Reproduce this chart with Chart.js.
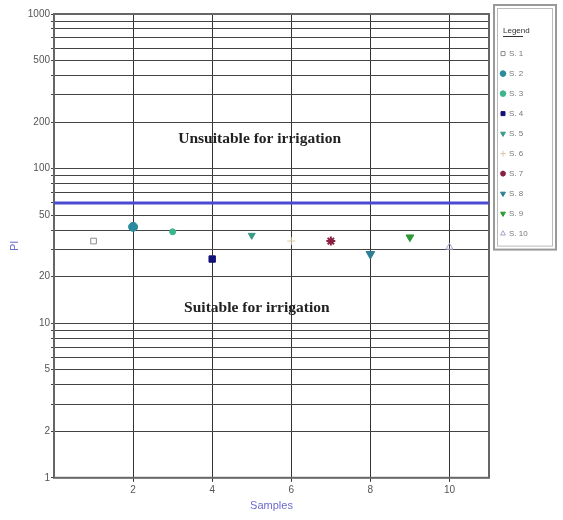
<!DOCTYPE html>
<html>
<head>
<meta charset="utf-8">
<script src="https://cdn.jsdelivr.net/npm/chart.js@4.4.1/dist/chart.umd.min.js"></script>
<style>
    html, body { margin: 0; padding: 0; background: #fff; }
    #wrap { width: 563px; height: 520px; }
</style>
</head>
<body>
<div id="wrap"><canvas id="piChart" width="563" height="520"></canvas></div>
<script>
// Data
const sampleLabels = ["S. 1", "S. 2", "S. 3", "S. 4", "S. 5", "S. 6", "S. 7", "S. 8", "S. 9", "S. 10"];
const sampleX = [1, 2, 3, 4, 5, 6, 7, 8, 9, 10];
const piValues = [34, 42, 39, 26, 37, 34, 34, 28, 36, 31];
const xTicks = [2, 4, 6, 8, 10];
const yTickLabels = [1, 2, 5, 10, 20, 50, 100, 200, 500, 1000];
const limitValue = 60;
const limitRange = [0, 11];

// marker look per sample
const markerStyles = [
    { style: "rect", fill: "#ffffff", border: "#8a8a8a", radius: 4, rot: 0 },
    { style: "circle", fill: "#2b8a9c", border: "#2b8a9c", radius: 4.5, rot: 0 },
    { style: "circle", fill: "#3db58a", border: "#3db58a", radius: 3, rot: 0 },
    { style: "rect", fill: "#12127a", border: "#12127a", radius: 4.5, rot: 0 },
    { style: "triangle", fill: "#3a9a88", border: "#3a9a88", radius: 4, rot: 180 },
    { style: "cross", fill: "#d6caa2", border: "#d6caa2", radius: 4, rot: 0 },
    { style: "star", fill: "#8a2040", border: "#8a2040", radius: 4.5, rot: 0 },
    { style: "triangle", fill: "#2f7d94", border: "#2f7d94", radius: 5, rot: 180 },
    { style: "triangle", fill: "#2c9a36", border: "#2c9a36", radius: 4.5, rot: 180 },
    { style: "triangle", fill: "rgba(255,255,255,0)", border: "#a9a2cc", radius: 4, rot: 0 },
];

// minor grid values for the log axis (1..9 of each decade)
const yGrid = [];
for (let d = 1; d < 1000; d *= 10) {
    for (let m = 1; m < 10; m++) yGrid.push(m * d);
}
yGrid.push(1000);

const datasets = sampleLabels.map((label, i) => ({
    label: label,
    data: [{ x: sampleX[i], y: piValues[i] }],
    pointStyle: markerStyles[i].style,
    pointRadius: markerStyles[i].radius,
    pointRotation: markerStyles[i].rot,
    backgroundColor: markerStyles[i].fill,
    borderColor: markerStyles[i].border,
    pointBorderWidth: markerStyles[i].style === "star" ? 2 : 1,
    showLine: false,
}));

datasets.push({
    label: "limit",
    type: "line",
    data: limitRange.map((x) => ({ x: x, y: limitValue })),
    borderColor: "#4b4bd2",
    borderWidth: 3,
    pointRadius: 0,
    showLine: true,
    order: 20,
});

const LEGEND_WIDTH = 71;

const frameAndText = {
    id: "frameAndText",
    afterInit(chart) {
        // force the legend column width
        const lg = chart.legend;
        if (lg) {
            const origFit = lg.fit.bind(lg);
            lg.fit = function () {
                origFit();
                this.width = LEGEND_WIDTH;
            };
        }
    },
    beforeDatasetsDraw(chart) {
        const { ctx, chartArea: a } = chart;
        ctx.save();
        ctx.strokeStyle = "#666";
        ctx.lineWidth = 2;
        ctx.strokeRect(a.left, a.top, a.right - a.left, a.bottom - a.top);
        ctx.restore();
    },
    afterDraw(chart) {
        const { ctx } = chart;
        const xs = chart.scales.x;
        const ys = chart.scales.y;
        ctx.save();
        ctx.fillStyle = "#222";
        ctx.font = "bold 15.5px 'Liberation Serif', 'DejaVu Serif', serif";
        ctx.textAlign = "center";
        ctx.textBaseline = "middle";
        ctx.fillText("Unsuitable for irrigation", xs.getPixelForValue(5.2), ys.getPixelForValue(155));
        ctx.fillText("Suitable for irrigation", xs.getPixelForValue(5.13), ys.getPixelForValue(12.6));

        // legend frame and title
        const lg = chart.legend;
        if (lg && lg.legendHitBoxes.length) {
            const boxes = lg.legendHitBoxes;
            const last = boxes[boxes.length - 1];
            const l = lg.left + 5;
            const t = lg.top - 9;
            const w = lg.width - 9;
            const h = last.top + last.height + 12 - t;
            ctx.strokeStyle = "#999";
            ctx.lineWidth = 2;
            ctx.strokeRect(l, t, w, h);
            ctx.lineWidth = 1;
            ctx.strokeStyle = "#bbb";
            ctx.strokeRect(l + 3.5, t + 3.5, w - 7, h - 7);

            ctx.fillStyle = "#333";
            ctx.font = "8px 'Liberation Sans', Arial, sans-serif";
            ctx.textAlign = "left";
            ctx.textBaseline = "middle";
            ctx.fillText("Legend", l + 9, t + 26);
            ctx.strokeStyle = "#333";
            ctx.beginPath();
            ctx.moveTo(l + 9, t + 31.5);
            ctx.lineTo(l + 29, t + 31.5);
            ctx.stroke();
        }
        ctx.restore();
    },
};

const ctx = document.getElementById("piChart").getContext("2d");
new Chart(ctx, {
    type: "scatter",
    data: { datasets: datasets },
    options: {
        responsive: false,
        animation: false,
        layout: { padding: { top: 14, right: 3, left: 8, bottom: 7 } },
        plugins: {
            tooltip: { enabled: false },
            legend: {
                position: "right",
                align: "start",
                title: {
                    // space kept for the title, text is drawn by the plugin
                    display: true,
                    text: "Legend",
                    color: "rgba(0,0,0,0)",
                    font: { size: 8, family: "'Liberation Sans', Arial, sans-serif" },
                    padding: { top: 12, bottom: 2 },
                },
                labels: {
                    usePointStyle: true,
                    boxWidth: 4,
                    boxHeight: 4,
                    padding: 12,
                    color: "#777",
                    font: { size: 8, family: "'Liberation Sans', Arial, sans-serif" },
                    filter: (item) => item.text !== "limit",
                },
            },
        },
        scales: {
            x: {
                type: "linear",
                min: 0,
                max: 11,
                afterBuildTicks: (scale) => {
                    scale.ticks = xTicks.map((v) => ({ value: v }));
                },
                grid: { color: "#333", lineWidth: 1, tickLength: 4 },
                border: { display: false },
                ticks: { color: "#555", font: { size: 10, family: "'Liberation Sans', Arial, sans-serif" }, padding: 2 },
                title: {
                    display: true,
                    text: "Samples",
                    color: "#6b6bd0",
                    font: { size: 11, family: "'Liberation Sans', Arial, sans-serif" },
                    padding: { top: 2, bottom: 0 },
                },
            },
            y: {
                type: "logarithmic",
                min: 1,
                max: 1000,
                afterBuildTicks: (scale) => {
                    scale.ticks = yGrid.map((v) => ({ value: v }));
                },
                afterFit: (scale) => {
                    scale.width = 46;
                },
                grid: { color: "#444", lineWidth: 1, tickLength: 3 },
                border: { display: false },
                ticks: {
                    color: "#555",
                    autoSkip: false,
                    font: { size: 10, family: "'Liberation Sans', Arial, sans-serif" },
                    padding: 1,
                    callback: (v) => (yTickLabels.includes(v) ? String(v) : ""),
                },
                title: {
                    display: true,
                    text: "PI",
                    color: "#6b6bd0",
                    font: { size: 11, family: "'Liberation Sans', Arial, sans-serif" },
                    padding: 0,
                },
            },
        },
    },
    plugins: [frameAndText],
});
</script>
</body>
</html>
